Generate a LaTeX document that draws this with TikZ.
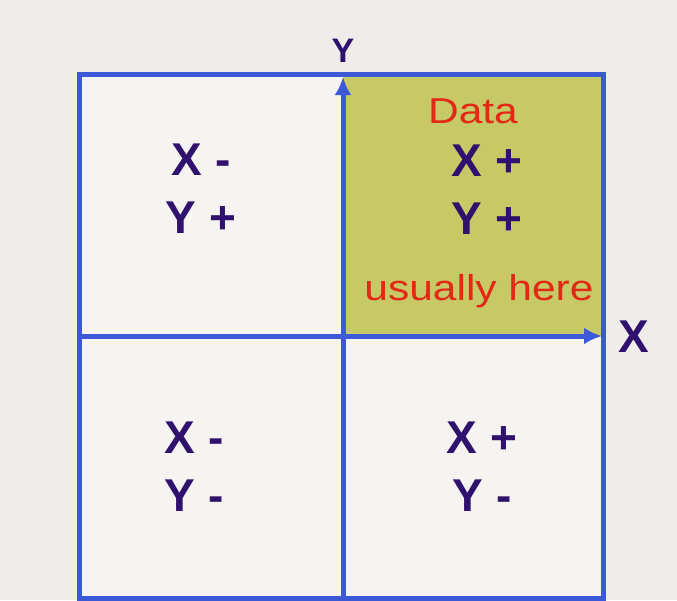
\documentclass[tikz,border=0pt]{standalone}
\usepackage{fontspec}
\setmainfont{Liberation Sans}
\newfontfamily\widesans[FakeStretch=1.18]{Liberation Sans}
\usetikzlibrary{arrows.meta,positioning}
\definecolor{axisblue}{RGB}{60,90,215}
\definecolor{signpurple}{RGB}{48,18,110}
\definecolor{notered}{RGB}{228,40,22}
\definecolor{dataolive}{RGB}{199,200,102}
\definecolor{pagegray}{RGB}{238,237,233}
\definecolor{cellwhite}{RGB}{245,244,240}

\begin{document}
\begin{tikzpicture}[x=1pt, y=-1pt,
    sign/.style={font=\fontsize{46}{58}\selectfont\bfseries, text=signpurple,
                 align=center, inner sep=0pt},
    note/.style={font=\widesans\fontsize{36}{40}\selectfont, text=notered,
                 inner sep=0pt, anchor=base},
    axislabel/.style={font=\fontsize{46}{46}\selectfont\bfseries, text=signpurple,
                 inner sep=0pt},
    frame/.style={draw=axisblue, line width=5pt},
    axis/.style={-{Latex[length=18pt, width=17pt]}, axisblue, line width=5pt}
]
\path[use as bounding box, fill=pagegray] (0,0) rectangle (677,600);

% corners of the square and the axes
\coordinate (sw) at (79,598);
\coordinate (ne) at (603,74);
\coordinate (origin) at (343,336);
\coordinate (ybot) at (343,598);
\coordinate (ytop) at (343,77);
\coordinate (xleft) at (79,336);
\coordinate (xright) at (602,336);

\fill[cellwhite] (sw) rectangle (ne);
\fill[dataolive] (origin) rectangle (ne);
\draw[frame] (sw) rectangle (ne);
\draw[axis] (ybot) -- (ytop);
\draw[axis] (xleft) -- (xright);

\node[axislabel, font=\fontsize{34}{34}\selectfont\bfseries] (ylabel) at (343,51) {Y};
\node[axislabel] (xlabel) at (634,337) {X};

% quadrants
\node[sign] (q2) at (201,189) {X -\\Y +};
\node[sign] (q1) at (487,190) {X +\\Y +};
\node[sign] (q3) at (194,467) {X -\\Y -};
\node[sign] (q4) at (482,467) {X +\\Y -};

\node[note] (data) at (473,123) {Data};
\node[note] (here) at (479,300) {usually here};
\end{tikzpicture}
\end{document}
